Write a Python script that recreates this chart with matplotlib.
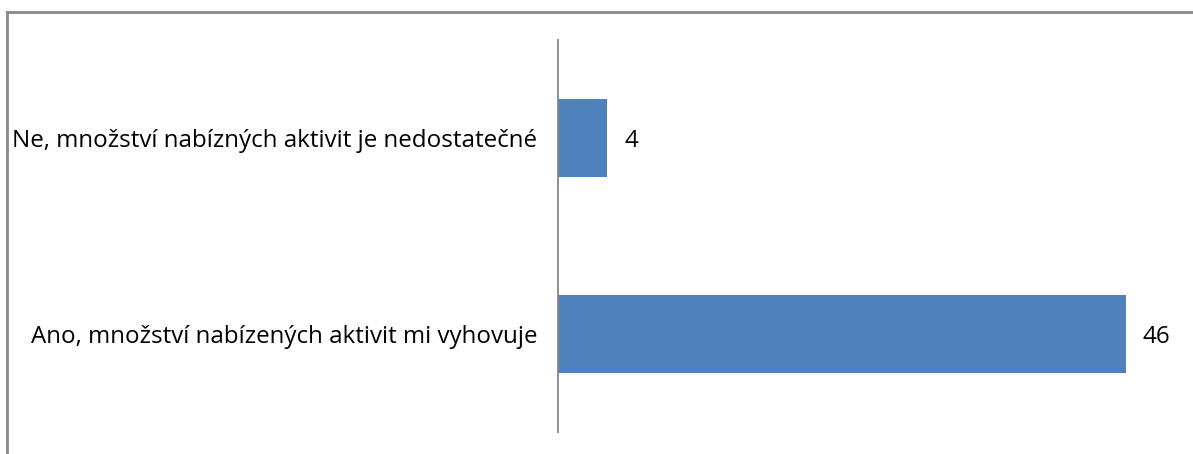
import matplotlib
matplotlib.use("Agg")
import matplotlib.pyplot as plt
from matplotlib.lines import Line2D

categories = ["Ano, množství nabízených aktivit mi vyhovuje",
              "Ne, množství nabízných aktivit je nedostatečné"]
values = [46, 4]

plt.rcParams['font.family'] = ['Open Sans', 'DejaVu Sans']

fig = plt.figure(figsize=(11.93, 4.54), dpi=100)
W, H = 1193, 454
ax = fig.add_axes([558 / W, 1 - 432 / H, 617 / W, 392 / H])

ypos = list(range(len(categories)))
ax.barh(ypos, values, height=0.4, color='#4F81BD')
ax.set_xlim(0, 50)
ax.set_ylim(-0.5, 1.5)
ax.set_yticks(ypos)
ax.set_yticklabels(categories, fontsize=17.4, color='black')
ax.tick_params(axis='y', length=0, pad=15)
ax.set_xticks([])
for s in ['top', 'right', 'bottom']:
    ax.spines[s].set_visible(False)
ax.spines['left'].set_color('#868686')
ax.spines['left'].set_linewidth(1.3)

for y, v in zip(ypos, values):
    ax.annotate(str(v), (v, y), xytext=(12, 0), textcoords='offset points',
                va='center_baseline', ha='left', fontsize=17.4)

# outer chart border (only top and left visible in crop)
fig.add_artist(Line2D([7.5 / W, 7.5 / W], [0, 1 - 12 / H], color='#898989', lw=2))
fig.add_artist(Line2D([7.5 / W, 1], [1 - 12 / H, 1 - 12 / H], color='#898989', lw=2))

fig.savefig("out.png", dpi=100)
